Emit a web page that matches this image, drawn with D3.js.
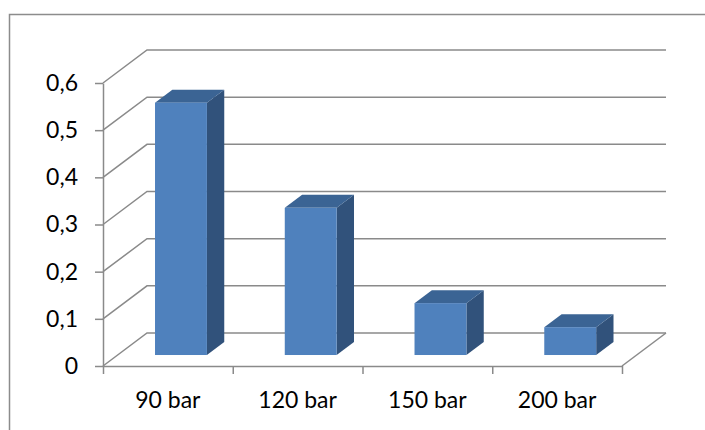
<!DOCTYPE html>
<html>
<head>
<meta charset="utf-8">
<script src="https://cdn.jsdelivr.net/npm/d3@7"></script>
<style>
  body { margin: 0; background: #fff; }
  text { font-family: Lato, "Open Sans", sans-serif; fill: #000; }
</style>
</head>
<body>
<svg id="chart" width="705" height="430"></svg>
<script>
// Data
const categories = ["90 bar", "120 bar", "150 bar", "200 bar"];
const values = [0.535, 0.312, 0.11, 0.059];
const yTicks = [0, 0.1, 0.2, 0.3, 0.4, 0.5, 0.6];

const svg = d3.select("#chart");

// Chart area frame
svg.append("rect")
  .attr("x", 9.5).attr("y", 14.5)
  .attr("width", 760).attr("height", 480)
  .attr("fill", "#fff")
  .attr("stroke", "#8c8c8c").attr("stroke-width", 1.5);

// Front plane of the 3D box
const x0 = 103, x1 = 622, yBase = 366, yTop = 83;
// Oblique depth offset of the box (full depth)
const depthX = 44, depthY = -33;
const off = f => [depthX * f, depthY * f];

const y = d3.scaleLinear().domain([0, 0.6]).range([yBase, yTop]);
const x = d3.scaleBand().domain(categories).range([x0, x1])
  .paddingInner(0.6).paddingOuter(0.3).align(0.48);
const xEdge = d3.scaleLinear().domain([0, categories.length]).range([x0, x1]);

const gridColor = "#8a8a8a";
const grid = svg.append("g")
  .attr("stroke", gridColor).attr("stroke-width", 1.5).attr("fill", "none");

// Side wall and back wall gridlines
yTicks.forEach(t => {
  const [dx, dy] = off(1);
  grid.append("path")
    .attr("d", `M${x0},${y(t)}L${x0 + dx},${y(t) + dy}L${x1 + dx},${y(t) + dy}`);
});
// Floor: right edge
{
  const [dx, dy] = off(1);
  grid.append("path").attr("d", `M${x1},${yBase}L${x1 + dx},${yBase + dy}`);
}

// Bars (side face, top face, front face)
const f0 = 0.333, f1 = 0.727;
const [dx0, dy0] = off(f0);
const [dx1, dy1] = off(f1);
const bw = x.bandwidth();

const bars = svg.append("g").selectAll("g.bar")
  .data(categories.map((c, i) => ({ c, v: values[i] })))
  .join("g").attr("class", "bar");

bars.append("path")
  .attr("fill", "#31527b")
  .attr("d", d => {
    const r = x(d.c) + bw;
    return `M${r + dx0},${y(d.v) + dy0}L${r + dx1},${y(d.v) + dy1}` +
           `L${r + dx1},${y(0) + dy1}L${r + dx0},${y(0) + dy0}Z`;
  });

bars.append("path")
  .attr("fill", "#3b6494")
  .attr("d", d => {
    const l = x(d.c), r = l + bw, t = y(d.v);
    return `M${l + dx0},${t + dy0}L${l + dx1},${t + dy1}` +
           `L${r + dx1},${t + dy1}L${r + dx0},${t + dy0}Z`;
  });

bars.append("rect")
  .attr("fill", "#4f81bd")
  .attr("x", d => x(d.c) + dx0)
  .attr("y", d => y(d.v) + dy0)
  .attr("width", bw)
  .attr("height", d => y(0) - y(d.v));

// Value axis
const yAxis = svg.append("g")
  .attr("transform", `translate(${x0},0)`)
  .call(d3.axisLeft(y).tickValues(yTicks).tickSize(8).tickSizeOuter(0).tickPadding(17)
    .tickFormat(d => String(d).replace(".", ",")));

// Category axis
const xAxis = svg.append("g")
  .attr("transform", `translate(0,${yBase})`)
  .call(d3.axisBottom(xEdge).ticks(categories.length).tickSize(8).tickSizeOuter(0)
    .tickFormat(""));

[yAxis, xAxis].forEach(g => {
  g.selectAll("path, line").attr("stroke", gridColor).attr("stroke-width", 1.5);
  g.selectAll("text").style("font-size", "23px").attr("fill", "#000");
});

// Category labels
svg.append("g").selectAll("text")
  .data(categories)
  .join("text")
  .attr("x", (d, i) => (xEdge(i) + xEdge(i + 1)) / 2)
  .attr("y", 408)
  .attr("text-anchor", "middle")
  .style("font-size", "23px")
  .text(d => d);
</script>
</body>
</html>
